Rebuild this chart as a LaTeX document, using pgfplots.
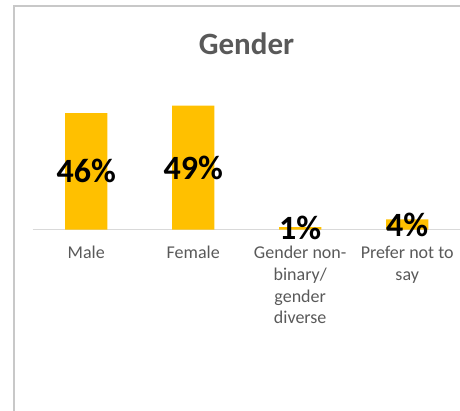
\documentclass[border=0pt]{standalone}
\usepackage{fontspec}
\setmainfont{Carlito}
\usepackage{pgfplots}
\pgfplotsset{compat=1.18}
\definecolor{bargold}{HTML}{FFC000}
\definecolor{txtgrey}{HTML}{595959}
\definecolor{axisgrey}{HTML}{D9D9D9}
\definecolor{framegrey}{HTML}{C8C8C8}
\begin{document}
\begin{tikzpicture}[x=1pt,y=1pt]
\useasboundingbox (0,0) rectangle (460,-410);
\clip (0,0) rectangle (460,-410);
\draw[framegrey, line width=1.6pt] (13.8,-430) -- (13.8,-5.8) -- (490,-5.8);
\node[anchor=base, text=txtgrey, font=\fontsize{31}{36}\selectfont\bfseries, inner sep=0pt] at (246.5,-54.5) {Gender};
\begin{axis}[
  at={(32.7pt,-229.6pt)}, anchor=south west,
  scale only axis,
  width=428pt, height=151.8pt,
  xmin=-0.5, xmax=3.5, ymin=0, ymax=60,
  axis x line=bottom, axis y line=none,
  x axis line style={-, draw=axisgrey, line width=1.3pt},
  xtick={0,1,2,3},
  xticklabels={Male, Female, {Gender non-\\binary/\\gender\\diverse}, {Prefer not to\\say}},
  xtick style={draw=none},
  major tick length=0pt,
  xticklabel style={align=center, anchor=north, inner sep=0pt, yshift=-16.3pt,
    text=txtgrey, font=\fontsize{18}{21.7}\selectfont},
  ybar, bar width=42.4pt, bar shift=0pt,
  visualization depends on={rawy \as \rawy},
  nodes near coords={\pgfmathprintnumber[assume math mode=true,fixed,precision=0]{\rawy}\%},
  every node near coord/.append style={anchor=center, inner sep=0pt,
    yshift={-1.265pt*\rawy}, text=black, font=\fontsize{34}{40}\selectfont\bfseries},
  clip=false,
]
\addplot[fill=bargold, draw=none] coordinates {(0,46) (1,49) (2,1) (3,4)};
\end{axis}
\end{tikzpicture}
\end{document}
